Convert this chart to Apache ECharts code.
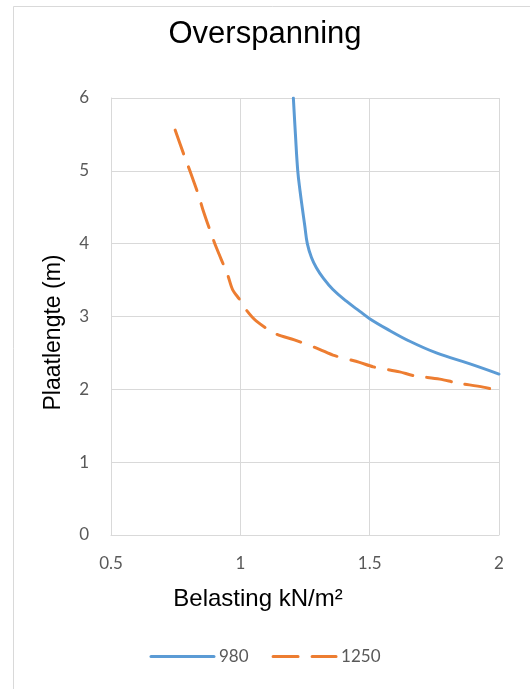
<!DOCTYPE html>
<html>
<head>
<meta charset="utf-8">
<script src="https://cdn.jsdelivr.net/npm/echarts@6/dist/echarts.min.js"></script>
<style>
html,body{margin:0;padding:0;background:#fff;}
#chart{width:530px;height:689px;}
</style>
</head>
<body>
<div id="chart"></div>
<script>
// ---- data ----
const chartTitle = 'Overspanning';
const xAxisTitle = 'Belasting kN/m²';
const yAxisTitle = 'Plaatlengte (m)';
const seriesNames = ['980', '1250'];

const load980 = [1.205, 1.213, 1.222, 1.231, 1.240, 1.249, 1.259, 1.275, 1.294, 1.320, 1.358, 1.410, 1.462, 1.500, 1.566, 1.655, 1.758, 1.888, 2.000];
const span980 = [6.00, 5.50, 5.00, 4.72, 4.48, 4.25, 4.00, 3.81, 3.67, 3.53, 3.37, 3.21, 3.07, 2.97, 2.83, 2.66, 2.50, 2.35, 2.21];

const load1250 = [0.748, 0.783, 0.805, 0.839, 0.855, 0.890, 0.908, 0.951, 0.970, 1.000, 1.025, 1.061, 1.138, 1.209, 1.306, 1.358, 1.461, 1.513, 1.616, 1.668, 1.771, 1.836, 1.939, 2.000];
const span1250 = [5.56, 5.21, 5.00, 4.66, 4.47, 4.11, 3.94, 3.57, 3.37, 3.22, 3.08, 2.94, 2.76, 2.68, 2.55, 2.47, 2.37, 2.31, 2.24, 2.19, 2.14, 2.09, 2.03, 1.98];

const xTicks = { min: 0.5, max: 2, interval: 0.5 };
const yTicks = { min: 0, max: 6, interval: 1 };

// ---- chart ----
const zip = (xs, ys) => xs.map((x, i) => [x, ys[i]]);
const chart = echarts.init(document.getElementById('chart'), null, { renderer: 'canvas' });
const gridColor = '#d9d9d9';
const tickFont = { color: '#595959', fontSize: 17, fontFamily: 'Lato' };

chart.setOption({
  animation: false,
  backgroundColor: '#fff',
  title: {
    text: chartTitle,
    left: 'center',
    top: 19,
    padding: 0,
    textStyle: { fontFamily: 'Liberation Sans', fontSize: 31, fontWeight: 'normal', color: '#000' }
  },
  graphic: [{
    type: 'rect',
    shape: { x: 13.5, y: 6.5, width: 600, height: 800 },
    style: { fill: 'none', stroke: gridColor, lineWidth: 1 },
    silent: true
  }],
  legend: {
    bottom: 19,
    left: 'center',
    itemWidth: 63,
    itemHeight: 14,
    itemGap: 23,
    itemStyle: { opacity: 0 },
    lineStyle: { width: 3 },
    textStyle: { color: '#595959', fontSize: 17, fontFamily: 'Lato' },
    data: seriesNames
  },
  grid: { left: 111, right: 31, top: 98, bottom: 154, containLabel: false },
  xAxis: {
    type: 'value',
    min: xTicks.min, max: xTicks.max, interval: xTicks.interval,
    name: xAxisTitle,
    nameLocation: 'middle',
    nameGap: 52,
    nameTextStyle: { fontFamily: 'Liberation Sans', fontSize: 24, color: '#000', padding: [0, 94, 0, 0] },
    axisLine: { show: true, lineStyle: { color: gridColor, width: 1 } },
    axisTick: { show: false },
    axisLabel: Object.assign({ margin: 20 }, tickFont),
    splitLine: { show: true, lineStyle: { color: gridColor, width: 1 } }
  },
  yAxis: {
    type: 'value',
    min: yTicks.min, max: yTicks.max, interval: yTicks.interval,
    name: yAxisTitle,
    nameLocation: 'middle',
    nameGap: 46,
    nameTextStyle: { fontFamily: 'Liberation Sans', fontSize: 23, color: '#000', padding: [0, 32, 0, 0] },
    axisLine: { show: true, lineStyle: { color: gridColor, width: 1 } },
    axisTick: { show: false },
    axisLabel: Object.assign({ margin: 22 }, tickFont),
    splitLine: { show: true, lineStyle: { color: gridColor, width: 1 } }
  },
  series: [
    {
      name: seriesNames[0],
      type: 'line',
      data: zip(load980, span980),
      smooth: 0.4,
      showSymbol: false,
      symbol: 'none',
      color: '#5B9BD5',
      lineStyle: { color: '#5B9BD5', width: 3, cap: 'round' }
    },
    {
      name: seriesNames[1],
      type: 'line',
      data: zip(load1250, span1250),
      smooth: 0.3,
      showSymbol: false,
      symbol: 'none',
      color: '#ED7D31',
      lineStyle: { color: '#ED7D31', width: 3, type: [25, 14], cap: 'round' }
    }
  ]
});
</script>
</body>
</html>
